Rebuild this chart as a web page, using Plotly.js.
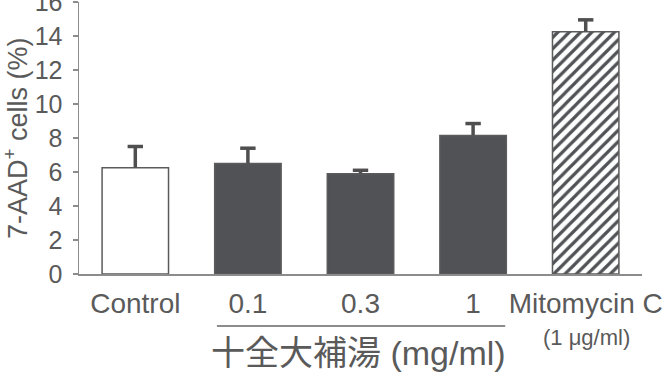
<!DOCTYPE html>
<html>
<head>
<meta charset="utf-8">
<script src="https://cdn.plot.ly/plotly-3.0.1.min.js"></script>
<style>html,body{margin:0;padding:0;background:#fff;}#chart{width:665px;height:381px;}</style>
</head>
<body>
<div id="chart"></div>
<script>
const categories = ["Control", "0.1", "0.3", "1", "Mitomycin C"];
const values = [6.25, 6.5, 5.9, 8.15, 14.25];
const errorsUp = [1.25, 0.9, 0.2, 0.7, 0.7];
const yTickVals = [0, 2, 4, 6, 8, 10, 12, 14, 16];
const groupLabel = "十全大補湯 (mg/ml)";
const mitoDose = "(1 μg/ml)";
const yTitle = "7-AAD<sup>+</sup> cells (%)";

const dark = "#505256";
const edge = "#5b5b5b";
const axisGray = "#8c8c8c";
const textGray = "#5a5a5a";
const errColor = "#4f4f4f";

const solidIdx = [0, 1, 2, 3];
const hatchIdx = [4];
const pick = (arr, idx) => idx.map(i => arr[i]);

const solidTrace = {
  type: "bar",
  x: pick(categories, solidIdx),
  y: pick(values, solidIdx),
  marker: {color: ["#ffffff", dark, dark, dark], line: {color: edge, width: 1.5}},
  error_y: {type: "data", symmetric: false, array: pick(errorsUp, solidIdx), arrayminus: [0,0,0,0], color: errColor, thickness: 3.5, width: 0}
};
const hatchTrace = {
  type: "bar",
  x: pick(categories, hatchIdx),
  y: pick(values, hatchIdx),
  marker: {color: "#ffffff", line: {color: edge, width: 1.5},
    pattern: {shape: "/", fgcolor: dark, bgcolor: "#ffffff", size: 8, solidity: 0.4}},
  error_y: {type: "data", symmetric: false, array: pick(errorsUp, hatchIdx), arrayminus: [0], color: errColor, thickness: 3.5, width: 0}
};
const capTrace = {
  type: "scatter", mode: "markers",
  x: categories,
  y: values.map((v, i) => v + errorsUp[i]),
  marker: {symbol: "line-ew", size: 11, line: {color: errColor, width: 3.5}},
  cliponaxis: false
};

const layout = {
  width: 665, height: 381,
  margin: {l: 79, r: 23, t: 2, b: 107},
  paper_bgcolor: "#fff", plot_bgcolor: "#fff",
  showlegend: false,
  barmode: "overlay",
  bargap: 0.41,
  font: {family: "Liberation Sans, Arial, sans-serif", color: textGray},
  xaxis: {
    type: "category", categoryarray: categories, categoryorder: "array",
    showline: true, linecolor: axisGray, linewidth: 2,
    ticks: "", tickfont: {size: 28, color: textGray},
    ticklabelstandoff: 3,
    fixedrange: true
  },
  yaxis: {
    range: [0, 16], tickvals: yTickVals,
    showline: true, linecolor: axisGray, linewidth: 1.5,
    ticks: "outside", ticklen: 5, tickwidth: 1.5, tickcolor: axisGray,
    tickfont: {size: 25, color: textGray},
    ticklabelstandoff: 5,
    ticklabeloverflow: "allow",
    showgrid: false, zeroline: false, fixedrange: true
  },
  shapes: [
    {type: "line", xref: "paper", yref: "paper", x0: 0.245, x1: 0.757, y0: -0.191, y1: -0.191, line: {color: axisGray, width: 2}}
  ],
  annotations: [
    {text: yTitle, xref: "paper", yref: "paper", x: 0, y: 0.5, xshift: -63, xanchor: "center", yanchor: "middle", textangle: -90, showarrow: false, font: {size: 27, color: textGray}},
    {text: groupLabel, xref: "paper", yref: "paper", x: 0.497, y: -0.29, xanchor: "center", yanchor: "middle", showarrow: false, font: {size: 34, color: textGray, family: "Liberation Sans, Noto Sans CJK JP, sans-serif"}},
    {text: mitoDose, xref: "paper", yref: "paper", x: 0.902, y: -0.232, xanchor: "center", yanchor: "middle", showarrow: false, font: {size: 22, color: textGray}}
  ]
};

Plotly.newPlot("chart", [solidTrace, hatchTrace, capTrace], layout, {displayModeBar: false, staticPlot: true});
</script>
</body>
</html>
